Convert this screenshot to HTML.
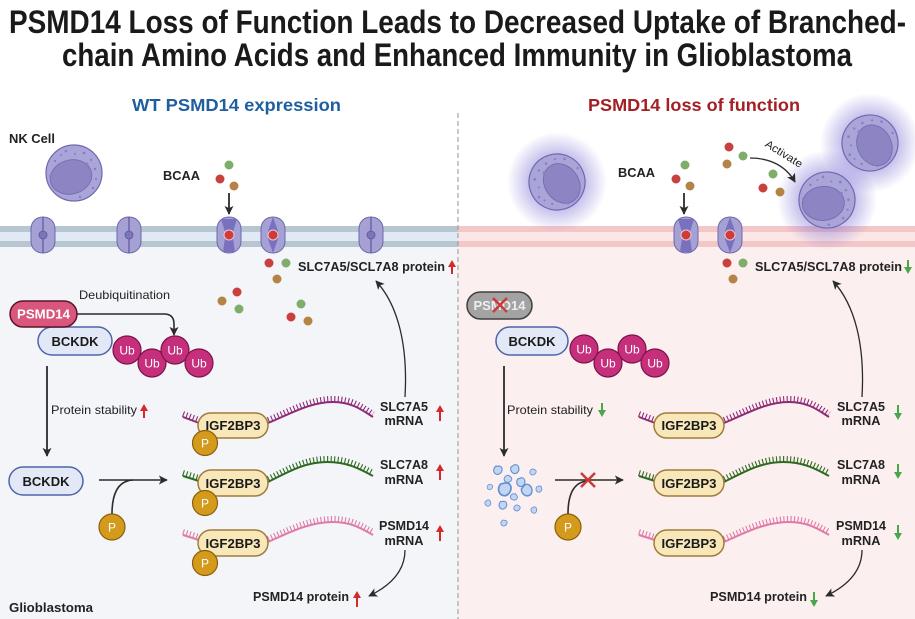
<!DOCTYPE html>
<html><head><meta charset="utf-8"><style>
html,body{margin:0;padding:0;background:#fff;}
svg{display:block;font-family:"Liberation Sans",Arial,sans-serif;}
</style></head><body>
<svg width="915" height="619" viewBox="0 0 915 619" xmlns="http://www.w3.org/2000/svg">
<defs>
<marker id="ah" viewBox="0 0 10 10" refX="9" refY="5" markerWidth="9" markerHeight="9" markerUnits="userSpaceOnUse" orient="auto"><path d="M0,0 L10,5 L0,10 L2.5,5 Z" fill="#2b2b2b"/></marker>
<radialGradient id="glow"><stop offset="0.5" stop-color="#7d72d4" stop-opacity="0.5"/><stop offset="1" stop-color="#7d72d4" stop-opacity="0"/></radialGradient>
<g id="nk">
<circle r="28" fill="#aaa5d9" stroke="#6f68ae" stroke-width="1.2"/>
<ellipse cx="-3" cy="4" rx="21" ry="17" transform="rotate(-15 -3 4)" fill="#8d85c3" stroke="#776fb3" stroke-width="1"/>
<g fill="#8780c0"><circle cx="10" cy="-20" r="1.4"/><circle cx="17" cy="-13" r="1.2"/><circle cx="-8" cy="-22" r="1.3"/><circle cx="1" cy="-19" r="1"/><circle cx="21" cy="-4" r="1.3"/><circle cx="22" cy="6" r="1.1"/><circle cx="19" cy="15" r="1.3"/><circle cx="-19" cy="-12" r="1.2"/><circle cx="-24" cy="3" r="1"/><circle cx="6" cy="24" r="1.2"/><circle cx="-13" cy="-18" r="1"/><circle cx="13" cy="-9" r="1.5"/></g>
</g>
<g id="tp">
<path d="M-12,-6 C-12,-14 -6,-18 0,-18 C6,-18 12,-14 12,-6 L12,6 C12,14 6,18 0,18 C-6,18 -12,14 -12,6 Z" fill="#a6a1d4" stroke="#6d66ab" stroke-width="1"/>
<line x1="0" y1="-18" x2="0" y2="18" stroke="#5e579e" stroke-width="1.2"/>
<circle r="4" fill="#7d75ba" stroke="#5e579e" stroke-width="0.8"/>
</g>
<g id="tc1">
<path d="M-12,-6 C-12,-14 -6,-18 0,-18 C6,-18 12,-14 12,-6 L12,6 C12,14 6,18 0,18 C-6,18 -12,14 -12,6 Z" fill="#a6a1d4" stroke="#6d66ab" stroke-width="1"/>
<path d="M-8,-16 L8,-16 L4,-3 L4,3 L6,17 L-6,17 L-4,3 L-4,-3 Z" fill="#7a71be"/>
<circle r="5" fill="#cf3a3a" stroke="#e9c9d3" stroke-width="1"/>
</g>
<g id="tc2">
<path d="M-12,-6 C-12,-14 -6,-18 0,-18 C6,-18 12,-14 12,-6 L12,6 C12,14 6,18 0,18 C-6,18 -12,14 -12,6 Z" fill="#a6a1d4" stroke="#6d66ab" stroke-width="1"/>
<path d="M0,-18 L5,-4 L5,4 L0,18 L-5,4 L-5,-4 Z" fill="#7a71be"/>
<circle r="5" fill="#cf3a3a" stroke="#e9c9d3" stroke-width="1"/>
</g>
<path id="frag" d="M0,-3 C3,-3.5 4,1 1,3 C-2,4 -4,1 -2.5,-2 Z"/>
</defs>

<rect x="0" y="0" width="915" height="619" fill="#ffffff"/>
<rect x="0" y="247" width="458" height="372" fill="#f3f5f9"/>
<rect x="458" y="247" width="457" height="372" fill="#fcefef"/>
<rect x="0" y="226" width="458" height="6" fill="#b7c6d1"/>
<rect x="0" y="232" width="458" height="9" fill="#dfeaf4"/>
<rect x="0" y="241" width="458" height="6" fill="#b7c6d1"/>
<rect x="458" y="226" width="457" height="6" fill="#f3c6c8"/>
<rect x="458" y="232" width="457" height="9" fill="#fde6e6"/>
<rect x="458" y="241" width="457" height="6" fill="#f3c6c8"/>

<text x="9" y="33" font-size="32" font-weight="bold" fill="#1a1a1a" textLength="897" lengthAdjust="spacingAndGlyphs">PSMD14 Loss of Function Leads to Decreased Uptake of Branched-</text>
<text x="62" y="66" font-size="32" font-weight="bold" fill="#1a1a1a" textLength="790" lengthAdjust="spacingAndGlyphs">chain Amino Acids and Enhanced Immunity in Glioblastoma</text>
<text x="132" y="111" font-size="17.5" font-weight="bold" fill="#1f5f9f" textLength="209" lengthAdjust="spacingAndGlyphs">WT PSMD14 expression</text>
<text x="588" y="111" font-size="17.5" font-weight="bold" fill="#a31f24" textLength="212" lengthAdjust="spacingAndGlyphs">PSMD14 loss of function</text>

<text x="9" y="143" font-size="12.5" font-weight="bold" fill="#222" textLength="46" lengthAdjust="spacingAndGlyphs">NK Cell</text>
<use href="#nk" x="74" y="173"/>
<text x="163" y="180" font-size="13" font-weight="bold" fill="#222" textLength="37" lengthAdjust="spacingAndGlyphs">BCAA</text>
<circle cx="229" cy="165" r="4.5" fill="#7fae6b"/>
<circle cx="220" cy="179" r="4.5" fill="#c9403e"/>
<circle cx="234" cy="186" r="4.5" fill="#b48446"/>
<path d="M229,193 L229,214" stroke="#2b2b2b" stroke-width="1.8" marker-end="url(#ah)"/>
<use href="#tp" x="43" y="235"/>
<use href="#tp" x="129" y="235"/>
<use href="#tc1" x="229" y="235"/>
<use href="#tc2" x="273" y="235"/>
<use href="#tp" x="371" y="235"/>

<circle cx="269" cy="263" r="4.5" fill="#c9403e"/>
<circle cx="286" cy="263" r="4.5" fill="#7fae6b"/>
<circle cx="277" cy="279" r="4.5" fill="#b48446"/>
<circle cx="237" cy="292" r="4.5" fill="#c9403e"/>
<circle cx="222" cy="301" r="4.5" fill="#b48446"/>
<circle cx="239" cy="309" r="4.5" fill="#7fae6b"/>
<circle cx="301" cy="304" r="4.5" fill="#7fae6b"/>
<circle cx="291" cy="317" r="4.5" fill="#c9403e"/>
<circle cx="308" cy="321" r="4.5" fill="#b48446"/>
<text x="298" y="271" font-size="12.5" font-weight="bold" fill="#222" textLength="147" lengthAdjust="spacingAndGlyphs">SLC7A5/SCL7A8 protein</text>
<path d="M452,274 V265" stroke="#d42a2a" stroke-width="2"/><polygon points="448,267 452,260 456,267" fill="#d42a2a"/>

<text x="79" y="299" font-size="12" fill="#222" textLength="91" lengthAdjust="spacingAndGlyphs">Deubiquitination</text>
<path d="M77,314 L164,314 Q174,314 174,324 L174,335" fill="none" stroke="#2b2b2b" stroke-width="1.6" marker-end="url(#ah)"/>
<rect x="38" y="327" width="74" height="28" rx="14" fill="#e3e8f6" stroke="#4d64a8" stroke-width="1.5"/>
<text x="75" y="346" text-anchor="middle" font-size="12.5" font-weight="bold" fill="#1a1a1a" textLength="47" lengthAdjust="spacingAndGlyphs">BCKDK</text>
<rect x="10" y="301" width="67" height="26" rx="13" fill="#d9577c" stroke="#5c1428" stroke-width="1.5"/>
<text x="43.5" y="318.5" text-anchor="middle" font-size="12.5" font-weight="bold" fill="#fff" textLength="53" lengthAdjust="spacingAndGlyphs">PSMD14</text>
<g stroke="#7d1248" stroke-width="1.2" fill="#c52f7c">
<circle cx="127" cy="350" r="14"/><circle cx="152" cy="363" r="14"/><circle cx="175" cy="350" r="14"/><circle cx="199" cy="363" r="14"/>
</g>
<g font-size="12" fill="#fff" text-anchor="middle">
<text x="127" y="354.5">Ub</text><text x="152" y="367.5">Ub</text><text x="175" y="354.5">Ub</text><text x="199" y="367.5">Ub</text>
</g>

<path d="M47,366 L47,456" stroke="#2b2b2b" stroke-width="1.8" marker-end="url(#ah)"/>
<text x="51" y="414" font-size="12" fill="#222" textLength="86" lengthAdjust="spacingAndGlyphs">Protein stability</text>
<path d="M144,418 V409" stroke="#d42a2a" stroke-width="2"/><polygon points="140,411 144,404 148,411" fill="#d42a2a"/>

<rect x="9" y="467" width="74" height="28" rx="14" fill="#e3e8f6" stroke="#4d64a8" stroke-width="1.5"/>
<text x="46" y="486" text-anchor="middle" font-size="12.5" font-weight="bold" fill="#1a1a1a" textLength="47" lengthAdjust="spacingAndGlyphs">BCKDK</text>
<path d="M99,480 L167,480" stroke="#2b2b2b" stroke-width="1.6" marker-end="url(#ah)"/>
<path d="M133,480 Q112,481 112,514" fill="none" stroke="#2b2b2b" stroke-width="1.6"/>
<circle cx="112" cy="527" r="13" fill="#d39a1c" stroke="#8c5f0c" stroke-width="1.2"/>
<text x="112" y="531.5" text-anchor="middle" font-size="12" fill="#fff">P</text>

<g fill="none">
<g stroke="#8e2a78">
<path d="M268,423 C290,414 310,402 333,402 C352,402 362,410 373,417" stroke-width="2"/>
<path d="M268,423 C290,414 310,402 333,402 C352,402 362,410 373,417" transform="translate(0,-3)" stroke-width="6" stroke-dasharray="1.1 2.4"/>
<path d="M183,417 L199,423" stroke-width="2"/>
<path d="M183,417 L199,423" transform="translate(0,-3)" stroke-width="6" stroke-dasharray="1.1 2.4"/>
</g>
<g stroke="#2e6a1f">
<path d="M268,482 C288,472 305,462 327,462 C348,462 360,469 373,476" stroke-width="2"/>
<path d="M268,482 C288,472 305,462 327,462 C348,462 360,469 373,476" transform="translate(0,-3)" stroke-width="6" stroke-dasharray="1.1 2.4"/>
<path d="M183,476 L199,481" stroke-width="2"/>
<path d="M183,476 L199,481" transform="translate(0,-3)" stroke-width="6" stroke-dasharray="1.1 2.4"/>
</g>
<g stroke="#e07aa8">
<path d="M268,542 C290,532 310,522 333,522 C352,522 362,529 373,535" stroke-width="2"/>
<path d="M268,542 C290,532 310,522 333,522 C352,522 362,529 373,535" transform="translate(0,-3)" stroke-width="6" stroke-dasharray="1.1 2.4"/>
<path d="M183,535 L199,540" stroke-width="2"/>
<path d="M183,535 L199,540" transform="translate(0,-3)" stroke-width="6" stroke-dasharray="1.1 2.4"/>
</g>
</g>
<g fill="#f7e7b9" stroke="#a07c3c" stroke-width="1.5">
<rect x="198" y="413" width="70" height="25" rx="12.5"/>
<rect x="198" y="470" width="70" height="26" rx="13"/>
<rect x="198" y="530" width="70" height="26" rx="13"/>
</g>
<g font-size="13" font-weight="bold" fill="#1a1a1a" text-anchor="middle">
<text x="233" y="430" textLength="55" lengthAdjust="spacingAndGlyphs">IGF2BP3</text>
<text x="233" y="488" textLength="55" lengthAdjust="spacingAndGlyphs">IGF2BP3</text>
<text x="233" y="548" textLength="55" lengthAdjust="spacingAndGlyphs">IGF2BP3</text>
</g>
<g fill="#d39a1c" stroke="#8c5f0c" stroke-width="1.2">
<circle cx="205" cy="443" r="12.5"/><circle cx="205" cy="503" r="12.5"/><circle cx="205" cy="563" r="12.5"/>
</g>
<g font-size="12" fill="#fff" text-anchor="middle">
<text x="205" y="447.5">P</text><text x="205" y="507.5">P</text><text x="205" y="567.5">P</text>
</g>

<path d="M405,397 C408,345 398,305 376,281" fill="none" stroke="#2b2b2b" stroke-width="1.3" marker-end="url(#ah)"/>
<path d="M405,550 C405,570 392,585 369,596" fill="none" stroke="#2b2b2b" stroke-width="1.3" marker-end="url(#ah)"/>
<g font-size="12.5" font-weight="bold" fill="#222" text-anchor="middle">
<text x="404" y="411" textLength="48" lengthAdjust="spacingAndGlyphs">SLC7A5</text>
<text x="404" y="425" textLength="39" lengthAdjust="spacingAndGlyphs">mRNA</text>
<text x="404" y="469" textLength="48" lengthAdjust="spacingAndGlyphs">SLC7A8</text>
<text x="404" y="484" textLength="39" lengthAdjust="spacingAndGlyphs">mRNA</text>
<text x="404" y="530" textLength="50" lengthAdjust="spacingAndGlyphs">PSMD14</text>
<text x="404" y="545" textLength="39" lengthAdjust="spacingAndGlyphs">mRNA</text>
</g>
<g stroke="#d42a2a" stroke-width="2"><path d="M440,421 V410"/><path d="M440,480 V469"/><path d="M440,541 V530"/><path d="M357,607 V596"/></g>
<g fill="#d42a2a"><polygon points="436,412 440,405 444,412"/><polygon points="436,471 440,464 444,471"/><polygon points="436,532 440,525 444,532"/><polygon points="353,598 357,591 361,598"/></g>
<text x="253" y="601" font-size="12.5" font-weight="bold" fill="#222" textLength="96" lengthAdjust="spacingAndGlyphs">PSMD14 protein</text>
<text x="9" y="612" font-size="12.5" font-weight="bold" fill="#222" textLength="84" lengthAdjust="spacingAndGlyphs">Glioblastoma</text>

<circle cx="557" cy="182" r="50" fill="url(#glow)"/>
<circle cx="827" cy="200" r="50" fill="url(#glow)"/>
<circle cx="870" cy="143" r="50" fill="url(#glow)"/>
<use href="#nk" transform="translate(557,182) rotate(-110)"/>
<use href="#nk" transform="translate(870,143) rotate(-100)"/>
<use href="#nk" transform="translate(827,200) rotate(10)"/>

<text x="618" y="177" font-size="13" font-weight="bold" fill="#222" textLength="37" lengthAdjust="spacingAndGlyphs">BCAA</text>
<circle cx="685" cy="165" r="4.5" fill="#7fae6b"/>
<circle cx="676" cy="179" r="4.5" fill="#c9403e"/>
<circle cx="690" cy="186" r="4.5" fill="#b48446"/>
<path d="M684,193 L684,214" stroke="#2b2b2b" stroke-width="1.8" marker-end="url(#ah)"/>
<use href="#tc1" x="686" y="235"/>
<use href="#tc2" x="730" y="235"/>
<circle cx="729" cy="147" r="4.5" fill="#c9403e"/>
<circle cx="743" cy="156" r="4.5" fill="#7fae6b"/>
<circle cx="727" cy="164" r="4.5" fill="#b48446"/>
<circle cx="773" cy="174" r="4.5" fill="#7fae6b"/>
<circle cx="763" cy="188" r="4.5" fill="#c9403e"/>
<circle cx="780" cy="192" r="4.5" fill="#b48446"/>
<path d="M750,158 C770,158 786,166 795,182" fill="none" stroke="#2b2b2b" stroke-width="1.3" marker-end="url(#ah)"/>
<text transform="translate(782,157) rotate(32)" text-anchor="middle" font-size="11" fill="#222" textLength="42" lengthAdjust="spacingAndGlyphs">Activate</text>

<circle cx="727" cy="263" r="4.5" fill="#c9403e"/>
<circle cx="743" cy="263" r="4.5" fill="#7fae6b"/>
<circle cx="733" cy="279" r="4.5" fill="#b48446"/>
<text x="755" y="271" font-size="12.5" font-weight="bold" fill="#222" textLength="147" lengthAdjust="spacingAndGlyphs">SLC7A5/SCL7A8 protein</text>
<path d="M908,260 V269" stroke="#4aa64a" stroke-width="2"/><polygon points="904,267 908,274 912,267" fill="#4aa64a"/>

<rect x="496" y="327" width="72" height="28" rx="14" fill="#e3e8f6" stroke="#4d64a8" stroke-width="1.5"/>
<text x="532" y="346" text-anchor="middle" font-size="12.5" font-weight="bold" fill="#1a1a1a" textLength="47" lengthAdjust="spacingAndGlyphs">BCKDK</text>
<rect x="467" y="292" width="65" height="27" rx="13.5" fill="#a3a3a3" stroke="#3f3f3f" stroke-width="1.5"/>
<text x="499.5" y="310" text-anchor="middle" font-size="12.5" font-weight="bold" fill="#eeeeee" textLength="52" lengthAdjust="spacingAndGlyphs">PSMD14</text>
<path d="M493,298 L507,312 M507,298 L493,312" stroke="#cc3a3a" stroke-width="2.5"/>
<g stroke="#7d1248" stroke-width="1.2" fill="#c52f7c">
<circle cx="584" cy="349" r="14"/><circle cx="608" cy="363" r="14"/><circle cx="632" cy="349" r="14"/><circle cx="655" cy="363" r="14"/>
</g>
<g font-size="12" fill="#fff" text-anchor="middle">
<text x="584" y="353.5">Ub</text><text x="608" y="367.5">Ub</text><text x="632" y="353.5">Ub</text><text x="655" y="367.5">Ub</text>
</g>

<path d="M504,366 L504,456" stroke="#2b2b2b" stroke-width="1.8" marker-end="url(#ah)"/>
<text x="507" y="414" font-size="12" fill="#222" textLength="86" lengthAdjust="spacingAndGlyphs">Protein stability</text>
<path d="M602,403 V412" stroke="#4aa64a" stroke-width="2"/><polygon points="598,410 602,417 606,410" fill="#4aa64a"/>

<g fill="#c2d6f2" stroke="#5f8fd4" stroke-width="0.8">
<use href="#frag" transform="translate(498,470) scale(1.4) rotate(20)"/>
<use href="#frag" transform="translate(515,469) scale(1.4) rotate(-10)"/>
<use href="#frag" transform="translate(533,472) scale(1.0) rotate(40)"/>
<use href="#frag" transform="translate(508,479) scale(1.2) rotate(60)"/>
<use href="#frag" transform="translate(521,482) scale(1.4) rotate(0)"/>
<use href="#frag" transform="translate(490,487) scale(0.9) rotate(30)"/>
<use href="#frag" transform="translate(505,489) scale(2.1) rotate(10)"/>
<use href="#frag" transform="translate(527,490) scale(1.8) rotate(-30)"/>
<use href="#frag" transform="translate(539,489) scale(1.0) rotate(0)"/>
<use href="#frag" transform="translate(514,497) scale(1.1) rotate(80)"/>
<use href="#frag" transform="translate(488,503) scale(1.0) rotate(-20)"/>
<use href="#frag" transform="translate(503,505) scale(1.3) rotate(15)"/>
<use href="#frag" transform="translate(517,508) scale(1.0) rotate(45)"/>
<use href="#frag" transform="translate(534,510) scale(1.0) rotate(-10)"/>
<use href="#frag" transform="translate(504,523) scale(1.0) rotate(30)"/>
</g>

<path d="M555,480 L623,480" stroke="#2b2b2b" stroke-width="1.6" marker-end="url(#ah)"/>
<path d="M588,481 Q568,482 568,514" fill="none" stroke="#2b2b2b" stroke-width="1.6"/>
<path d="M581,473 L595,487 M595,473 L581,487" stroke="#cc3a3a" stroke-width="2.5"/>
<circle cx="568" cy="527" r="13" fill="#d39a1c" stroke="#8c5f0c" stroke-width="1.2"/>
<text x="568" y="531.5" text-anchor="middle" font-size="12" fill="#fff">P</text>

<g transform="translate(456,0)" fill="none">
<g stroke="#8e2a78">
<path d="M268,423 C290,414 310,402 333,402 C352,402 362,410 373,417" stroke-width="2"/>
<path d="M268,423 C290,414 310,402 333,402 C352,402 362,410 373,417" transform="translate(0,-3)" stroke-width="6" stroke-dasharray="1.1 2.4"/>
<path d="M183,417 L199,423" stroke-width="2"/>
<path d="M183,417 L199,423" transform="translate(0,-3)" stroke-width="6" stroke-dasharray="1.1 2.4"/>
</g>
<g stroke="#2e6a1f">
<path d="M268,482 C288,472 305,462 327,462 C348,462 360,469 373,476" stroke-width="2"/>
<path d="M268,482 C288,472 305,462 327,462 C348,462 360,469 373,476" transform="translate(0,-3)" stroke-width="6" stroke-dasharray="1.1 2.4"/>
<path d="M183,476 L199,481" stroke-width="2"/>
<path d="M183,476 L199,481" transform="translate(0,-3)" stroke-width="6" stroke-dasharray="1.1 2.4"/>
</g>
<g stroke="#e07aa8">
<path d="M268,542 C290,532 310,522 333,522 C352,522 362,529 373,535" stroke-width="2"/>
<path d="M268,542 C290,532 310,522 333,522 C352,522 362,529 373,535" transform="translate(0,-3)" stroke-width="6" stroke-dasharray="1.1 2.4"/>
<path d="M183,535 L199,540" stroke-width="2"/>
<path d="M183,535 L199,540" transform="translate(0,-3)" stroke-width="6" stroke-dasharray="1.1 2.4"/>
</g>
</g>
<g fill="#f7e7b9" stroke="#a07c3c" stroke-width="1.5">
<rect x="654" y="413" width="70" height="25" rx="12.5"/>
<rect x="654" y="470" width="70" height="26" rx="13"/>
<rect x="654" y="530" width="70" height="26" rx="13"/>
</g>
<g font-size="13" font-weight="bold" fill="#1a1a1a" text-anchor="middle">
<text x="689" y="430" textLength="55" lengthAdjust="spacingAndGlyphs">IGF2BP3</text>
<text x="689" y="488" textLength="55" lengthAdjust="spacingAndGlyphs">IGF2BP3</text>
<text x="689" y="548" textLength="55" lengthAdjust="spacingAndGlyphs">IGF2BP3</text>
</g>

<path d="M862,397 C865,345 855,305 833,281" fill="none" stroke="#2b2b2b" stroke-width="1.3" marker-end="url(#ah)"/>
<path d="M862,550 C862,570 849,585 826,596" fill="none" stroke="#2b2b2b" stroke-width="1.3" marker-end="url(#ah)"/>
<g font-size="12.5" font-weight="bold" fill="#222" text-anchor="middle">
<text x="861" y="411" textLength="48" lengthAdjust="spacingAndGlyphs">SLC7A5</text>
<text x="861" y="425" textLength="39" lengthAdjust="spacingAndGlyphs">mRNA</text>
<text x="861" y="469" textLength="48" lengthAdjust="spacingAndGlyphs">SLC7A8</text>
<text x="861" y="484" textLength="39" lengthAdjust="spacingAndGlyphs">mRNA</text>
<text x="861" y="530" textLength="50" lengthAdjust="spacingAndGlyphs">PSMD14</text>
<text x="861" y="545" textLength="39" lengthAdjust="spacingAndGlyphs">mRNA</text>
</g>
<g stroke="#4aa64a" stroke-width="2"><path d="M898,405 V415"/><path d="M898,464 V474"/><path d="M898,525 V535"/><path d="M814,592 V602"/></g>
<g fill="#4aa64a"><polygon points="894,413 898,420 902,413"/><polygon points="894,472 898,479 902,472"/><polygon points="894,533 898,540 902,533"/><polygon points="810,600 814,607 818,600"/></g>
<text x="710" y="601" font-size="12.5" font-weight="bold" fill="#222" textLength="97" lengthAdjust="spacingAndGlyphs">PSMD14 protein</text>

<line x1="458" y1="113" x2="458" y2="619" stroke="#9e9e9e" stroke-width="1.1" stroke-dasharray="5 3"/>
</svg>
</body></html>
